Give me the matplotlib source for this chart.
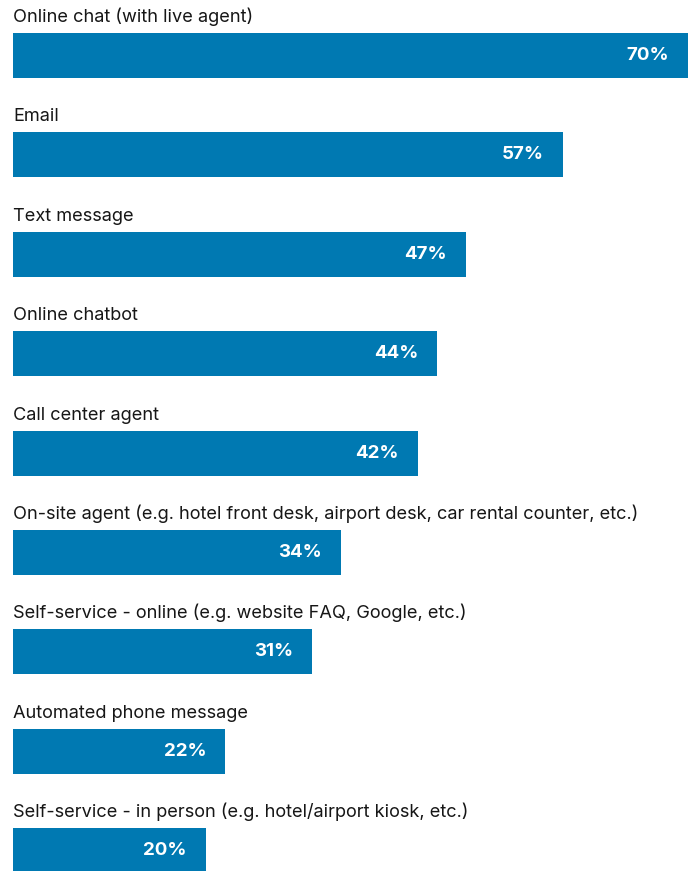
import matplotlib
matplotlib.use('Agg')
from matplotlib import pyplot as plt

# channel preference shares
channels = [
    'Online chat (with live agent)',
    'Email',
    'Text message',
    'Online chatbot',
    'Call center agent',
    'On-site agent (e.g. hotel front desk, airport desk, car rental counter, etc.)',
    'Self-service - online (e.g. website FAQ, Google, etc.)',
    'Automated phone message',
    'Self-service - in person (e.g. hotel/airport kiosk, etc.)',
]
shares = [70, 57, 47, 44, 42, 34, 31, 22, 20]

bar_color = '#0079B2'
text_color = '#161616'

W, H = 694, 871
px_per_pct = 9.643
row_px = 99.4
first_center = 55.5
left_px = 13

fig = plt.figure(figsize=(W / 100, H / 100), dpi=100)
ax = fig.add_axes([0, 0, 1, 1])
ax.set_xlim(-left_px / px_per_pct, (W - left_px) / px_per_pct)
ax.set_ylim((H - first_center) / row_px, -first_center / row_px)
ax.axis('off')

bar_h = 45 / row_px
ypos = list(range(len(shares)))
ax.barh(ypos, shares, height=bar_h, color=bar_color, left=0)

for i, (name, v) in enumerate(zip(channels, shares)):
    ax.text(0, i - bar_h / 2 - 11 / row_px, name, ha='left', va='baseline',
            fontsize=13.1, family='Inter', color=text_color)
    ax.text(v - 19 / px_per_pct, i, f'{v}%', ha='right', va='center',
            fontsize=13.5, family='Inter', fontweight='bold', color='white')

plt.savefig('out.png', dpi=100)
